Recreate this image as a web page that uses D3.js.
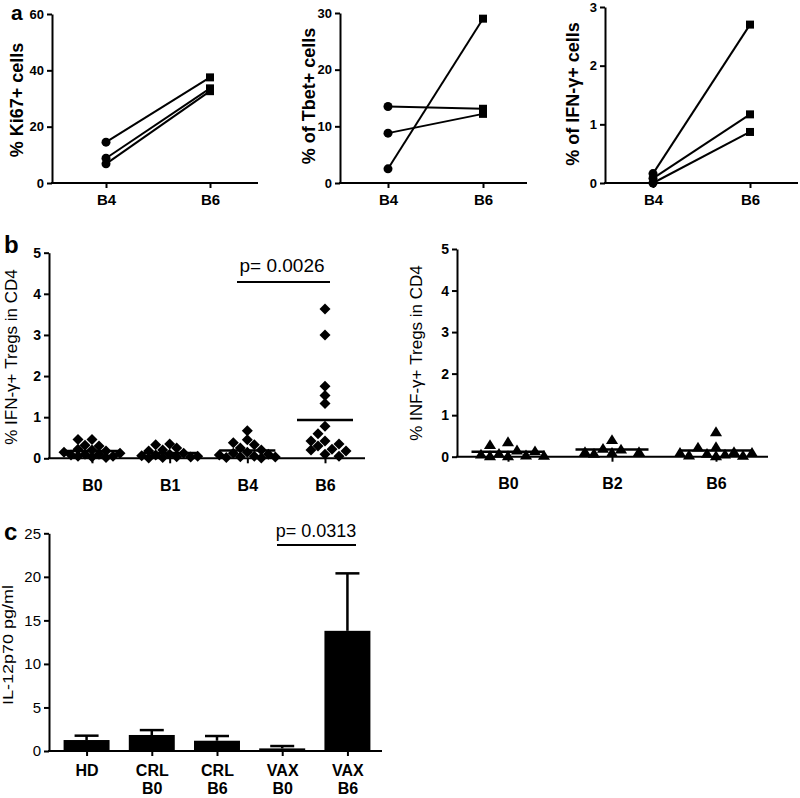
<!DOCTYPE html>
<html>
<head>
  <title>Panels a, b, c</title>
  <style>
    body { margin: 0; background: #fff; }
    text { font-family: Arial, 'Liberation Sans', Helvetica, sans-serif; }
  </style>
</head>
<body>
  <svg id="main" width="800" height="798"></svg>
  <script src="https://cdn.jsdelivr.net/npm/d3@7/dist/d3.min.js"></script>
  <script>
    // ---- panel a : paired values, B4 -> B6
    const aCats = ['B4', 'B6']
    const ki67B4 = [14.5, 8.8, 6.8]
    const ki67B6 = [37.5, 33.6, 32.6]
    const tbetB4 = [13.5, 8.8, 2.5]
    const tbetB6 = [13.1, 12.2, 29.0]
    const ifngB4 = [0.16, 0.08, 0.0]
    const ifngB6 = [2.70, 1.17, 0.87]

    // ---- panel b : IFN-γ+ Tregs in CD4
    const bCats1 = ['B0', 'B1', 'B4', 'B6']
    const tregB0 = [0.46, 0.46, 0.32, 0.30, 0.22, 0.20, 0.18, 0.15, 0.12, 0.10, 0.10, 0.08, 0.05, 0.05, 0.03, 0.02]
    const tregB1 = [0.35, 0.33, 0.25, 0.20, 0.18, 0.12, 0.10, 0.08, 0.06, 0.05, 0.04, 0.03, 0.02, 0.01]
    const tregB4 = [0.67, 0.45, 0.38, 0.33, 0.25, 0.20, 0.15, 0.12, 0.10, 0.08, 0.05, 0.04, 0.03, 0.02, 0.01]
    const tregB6 = [3.63, 3.00, 1.75, 1.53, 1.33, 0.78, 0.60, 0.42, 0.42, 0.35, 0.30, 0.22, 0.20, 0.18, 0.10, 0.05]

    const bCats2 = ['B0', 'B2', 'B6']
    const infB0 = [0.36, 0.29, 0.16, 0.14, 0.08, 0.06, 0.04, 0.03, 0.02, 0.02]
    const infB2 = [0.41, 0.20, 0.18, 0.12, 0.12, 0.10, 0.08]
    const infB6 = [0.60, 0.24, 0.23, 0.12, 0.10, 0.10, 0.08, 0.06, 0.04, 0.03, 0.02]

    // ---- panel c : IL-12p70
    const cCats = [['HD'], ['CRL', 'B0'], ['CRL', 'B6'], ['VAX', 'B0'], ['VAX', 'B6']]
    const il12Mean = [1.26, 1.84, 1.18, 0.30, 13.8]
    const il12Sem = [0.50, 0.56, 0.54, 0.27, 6.6]

    const svg = d3.select('#main')
    const font = "Arial, 'Liberation Sans', Helvetica, sans-serif"

    function yAxis(g, y, ticks, x0, bold, size) {
      const ax = g.append('g').attr('transform', `translate(${x0},0)`)
        .call(d3.axisLeft(y).tickValues(ticks).tickFormat(d3.format('d'))
          .tickSize(5).tickSizeOuter(0).tickPadding(3))
      ax.select('.domain').attr('stroke', '#000').attr('stroke-width', 2)
      ax.selectAll('.tick line').attr('stroke', '#000').attr('stroke-width', 2)
      ax.selectAll('.tick text').attr('fill', '#000').attr('font-size', size)
        .attr('font-weight', bold ? 'bold' : 'normal').attr('font-family', font)
      return ax
    }

    function xAxis(g, x, y0, x0, x1, size, pad) {
      const ax = g.append('g').attr('transform', `translate(0,${y0})`)
        .call(d3.axisBottom(x).tickSize(5).tickSizeOuter(0).tickPadding(pad))
      ax.select('.domain').remove()
      ax.selectAll('.tick line').attr('stroke', '#000').attr('stroke-width', 2)
      ax.selectAll('.tick text').attr('fill', '#000').attr('font-size', size)
        .attr('font-weight', 'bold').attr('font-family', font)
      g.append('line').attr('x1', x0 - 1).attr('x2', x1).attr('y1', y0).attr('y2', y0)
        .attr('stroke', '#000').attr('stroke-width', 2)
      return ax
    }

    function yLabel(text, x, y, size, bold, sx) {
      svg.append('text').text(text)
        .attr('transform', `translate(${x},${y}) scale(${sx || 1},1) rotate(-90)`)
        .attr('text-anchor', 'middle').attr('font-size', size)
        .attr('font-weight', bold ? 'bold' : 'normal')
    }

    function panelLetter(t, x, y, size) {
      svg.append('text').text(t).attr('x', x).attr('y', y)
        .attr('font-size', size).attr('font-weight', 'bold')
    }

    // ================= panel a
    function pairedPanel(o) {
      const g = svg.append('g')
      const y = d3.scaleLinear().domain([0, o.max]).range([o.yBottom, o.yTop])
      const x = d3.scalePoint().domain(aCats).range(o.xRange)
      yAxis(g, y, o.ticks, o.x0, true, 13)
      xAxis(g, x, o.yBottom, o.x0, o.x1, 15, 6)
      const pairs = o.before.map((v, i) => [v, o.after[i]])
      g.selectAll('.pair').data(pairs).join('line')
        .attr('x1', x('B4')).attr('x2', x('B6'))
        .attr('y1', d => y(d[0])).attr('y2', d => y(d[1]))
        .attr('stroke', '#000').attr('stroke-width', 2)
      g.selectAll('.dot').data(o.before).join('circle')
        .attr('cx', x('B4')).attr('cy', d => y(d)).attr('r', 4.5).attr('fill', '#000')
      g.selectAll('.sq').data(o.after).join('rect')
        .attr('x', x('B6') - 4).attr('y', d => y(d) - 4)
        .attr('width', 8).attr('height', 8).attr('fill', '#000')
      yLabel(o.label, o.labelX, o.labelY, 18, true)
    }

    pairedPanel({ before: ki67B4, after: ki67B6, max: 60, ticks: [0, 20, 40, 60],
      x0: 52, x1: 258, xRange: [106, 210], yTop: 14, yBottom: 183,
      label: '% Ki67+ cells', labelX: 23, labelY: 100 })
    pairedPanel({ before: tbetB4, after: tbetB6, max: 30, ticks: [0, 10, 20, 30],
      x0: 340, x1: 527, xRange: [388, 483], yTop: 13, yBottom: 183,
      label: '% of Tbet+ cells', labelX: 315, labelY: 96 })
    pairedPanel({ before: ifngB4, after: ifngB6, max: 3, ticks: [0, 1, 2, 3],
      x0: 605, x1: 798, xRange: [653, 750], yTop: 7, yBottom: 183,
      label: '% of IFN-γ+ cells', labelX: 579, labelY: 94 })

    // ================= panel b
    // simple beeswarm: spread points sideways when they collide, within a limited width
    function swarm(values, y, cx, step, minDist, maxK) {
      const placed = []
      values.slice().sort((a, b) => b - a).forEach(v => {
        const py = y(v)
        let best = null, bestD = -1
        for (let k = 0; k <= maxK; k++) {
          const off = k === 0 ? 0 : (k % 2 ? -1 : 1) * Math.ceil(k / 2) * step
          const px = cx + off
          const d = placed.length ? d3.min(placed, q => Math.hypot(q.x - px, q.y - py)) : Infinity
          if (d >= minDist) { best = px; break }
          if (d > bestD) { bestD = d; best = px }
        }
        placed.push({ x: best, y: py, v })
      })
      return placed
    }

    const diamond = r => `M0,${-r}L${r},0L0,${r}L${-r},0Z`
    const triangle = r => `M0,${-r}L${r * 1.1},${r * 0.8}L${-r * 1.1},${r * 0.8}Z`

    function scatterPanel(o) {
      const g = svg.append('g')
      const y = d3.scaleLinear().domain([0, 5]).range([o.yBottom, o.yTop])
      const x = d3.scalePoint().domain(o.cats).range(o.xRange)
      yAxis(g, y, [0, 1, 2, 3, 4, 5], o.x0, true, 14)
      xAxis(g, x, o.yBottom, o.x0, o.x1, 16, 16)
      o.cats.forEach((c, i) => {
        const vals = o.series[i]
        const pts = swarm(vals, y, x(c), o.step, o.minDist, o.maxK)
        g.selectAll(null).data(pts).join('path')
          .attr('transform', d => `translate(${d.x},${d.y})`)
          .attr('d', o.shape(5.5)).attr('fill', '#000')
        const m = d3.mean(vals)
        g.append('line').attr('x1', x(c) - o.meanW / 2).attr('x2', x(c) + o.meanW / 2)
          .attr('y1', y(m)).attr('y2', y(m)).attr('stroke', '#000').attr('stroke-width', 2.5)
      })
      yLabel(o.label, o.labelX, o.labelY, 17, false)
      return { g, x, y }
    }

    const b1 = scatterPanel({ cats: bCats1, series: [tregB0, tregB1, tregB4, tregB6],
      x0: 49, x1: 365, xRange: [92, 325], yTop: 252.7, yBottom: 458.3, meanW: 56,
      step: 7, minDist: 8, maxK: 8, shape: diamond,
      label: '% IFN-γ+ Tregs in CD4', labelX: 17, labelY: 357 })
    b1.g.append('line').attr('x1', 237).attr('x2', 330).attr('y1', 282).attr('y2', 282)
      .attr('stroke', '#000').attr('stroke-width', 2)
    b1.g.append('text').text('p= 0.0026').attr('x', 282).attr('y', 272)
      .attr('text-anchor', 'middle').attr('font-size', 19)

    scatterPanel({ cats: bCats2, series: [infB0, infB2, infB6],
      x0: 457, x1: 768, xRange: [508, 716], yTop: 249, yBottom: 456.7, meanW: 73,
      step: 9, minDist: 11, maxK: 8, shape: triangle,
      label: '% INF-γ+ Tregs in CD4', labelX: 422, labelY: 353 })

    // ================= panel c
    {
      const g = svg.append('g')
      const x0 = 49, x1 = 382, yTop = 533.3, yBottom = 751
      const y = d3.scaleLinear().domain([0, 25]).range([yBottom, yTop])
      const keys = cCats.map(d => d.join(' '))
      const x = d3.scaleBand().domain(keys).range([54, 380]).paddingInner(0.295).paddingOuter(0.147)
      yAxis(g, y, [0, 5, 10, 15, 20, 25], x0, false, 15)
      const xa = xAxis(g, d3.scalePoint().domain(keys).range([x(keys[0]) + x.bandwidth() / 2,
        x(keys[4]) + x.bandwidth() / 2]), yBottom, x0, x1, 16, 12)
      xa.selectAll('.tick text').text(null).attr('dy', null).attr('y', null)
      xa.selectAll('.tick').each(function (k, i) {
        const t = d3.select(this).select('text')
        cCats[i].forEach((line, j) => {
          t.append('tspan').attr('x', 0).attr('y', j === 0 ? 25 : 43).text(line)
        })
      })
      const rows = keys.map((k, i) => ({ k, m: il12Mean[i], e: il12Sem[i] }))
      g.selectAll('.err').data(rows).join('line')
        .attr('x1', d => x(d.k) + x.bandwidth() / 2).attr('x2', d => x(d.k) + x.bandwidth() / 2)
        .attr('y1', d => y(d.m)).attr('y2', d => y(d.m + d.e))
        .attr('stroke', '#000').attr('stroke-width', 2.5)
      g.selectAll('.cap').data(rows).join('line')
        .attr('x1', d => x(d.k) + x.bandwidth() / 2 - 12).attr('x2', d => x(d.k) + x.bandwidth() / 2 + 12)
        .attr('y1', d => y(d.m + d.e)).attr('y2', d => y(d.m + d.e))
        .attr('stroke', '#000').attr('stroke-width', 2.5)
      g.selectAll('.bar').data(rows).join('rect')
        .attr('x', d => x(d.k)).attr('width', x.bandwidth())
        .attr('y', d => y(d.m)).attr('height', d => yBottom - y(d.m))
        .attr('fill', '#000')
      g.append('line').attr('x1', 277).attr('x2', 356).attr('y1', 545).attr('y2', 545)
        .attr('stroke', '#000').attr('stroke-width', 2)
      g.append('text').text('p= 0.0313').attr('x', 316).attr('y', 537)
        .attr('text-anchor', 'middle').attr('font-size', 18)
      yLabel('IL-12p70 pg/ml', 13, 645, 18, false, 0.85)
    }

    panelLetter('a', 11, 20, 21)
    panelLetter('b', 4, 253, 24)
    panelLetter('c', 4, 540, 24)
  </script>
</body>
</html>
